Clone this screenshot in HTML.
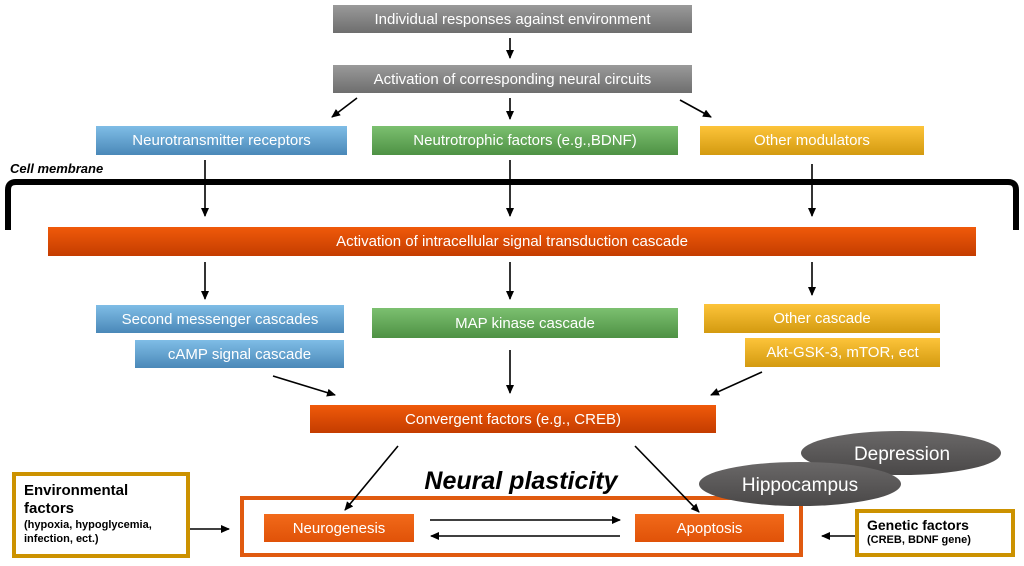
<!DOCTYPE html>
<html><head><style>
body{margin:0;width:1024px;height:566px;background:#fff;position:relative;overflow:hidden;font-family:"Liberation Sans",sans-serif}
.b{position:absolute;color:#fff;font-size:15px;display:flex;align-items:center;justify-content:center;white-space:nowrap}
.g{background:linear-gradient(#9a9a9a,#6e6e6e)}
.bl{background:linear-gradient(#7fbde6,#4a88b8)}
.gr{background:linear-gradient(#7cc070,#4e9144)}
.y{background:linear-gradient(#fdc43a,#d39a10)}
.o{background:linear-gradient(#f05a0a,#c43c00)}
.ob{background:linear-gradient(#f26a1a,#e05208)}
.bx{position:absolute;border:4px solid #cc9200;background:#fff;font-weight:bold;color:#000}
</style></head><body>
<div class="b g" style="left:333px;top:5px;width:359px;height:28px">Individual responses against environment</div>
<div class="b g" style="left:333px;top:65px;width:359px;height:28px">Activation of corresponding neural circuits</div>
<div class="b bl" style="left:96px;top:126px;width:251px;height:29px">Neurotransmitter receptors</div>
<div class="b gr" style="left:372px;top:126px;width:306px;height:29px">Neutrotrophic factors (e.g.,BDNF)</div>
<div class="b y" style="left:700px;top:126px;width:224px;height:29px">Other modulators</div>
<div style="position:absolute;left:10px;top:161px;font-size:13px;font-weight:bold;font-style:italic">Cell membrane</div>
<div class="b o" style="left:48px;top:227px;width:928px;height:29px">Activation of intracellular signal transduction cascade</div>
<div class="b bl" style="left:96px;top:305px;width:248px;height:28px">Second messenger cascades</div>
<div class="b bl" style="left:135px;top:340px;width:209px;height:28px">cAMP signal cascade</div>
<div class="b gr" style="left:372px;top:308px;width:306px;height:30px">MAP kinase cascade</div>
<div class="b y" style="left:704px;top:304px;width:236px;height:29px">Other cascade</div>
<div class="b y" style="left:745px;top:338px;width:195px;height:29px">Akt-GSK-3, mTOR, ect</div>
<div class="b o" style="left:310px;top:405px;width:406px;height:28px">Convergent factors (e.g., CREB)</div>
<div style="position:absolute;left:240px;top:496px;width:555px;height:53px;border:4px solid #e05a10"></div>
<svg width="1024" height="566" style="position:absolute;left:0;top:0">
<defs><marker id="a" markerWidth="10" markerHeight="10" refX="8" refY="4" orient="auto" markerUnits="userSpaceOnUse"><path d="M0,0 L9,4 L0,8z" fill="#000"/></marker>
<linearGradient id="el" x1="0" y1="0" x2="0" y2="1"><stop offset="0" stop-color="#6a6868"/><stop offset="1" stop-color="#4a4848"/></linearGradient></defs>
<path d="M8,230 V190 Q8,182 16,182 H1008 Q1016,182 1016,190 V230" fill="none" stroke="#000" stroke-width="6"/>
<g stroke="#000" stroke-width="1.6" marker-end="url(#a)">
<line x1="510" y1="38" x2="510" y2="58"/>
<line x1="357" y1="98" x2="332" y2="117"/>
<line x1="510" y1="98" x2="510" y2="119"/>
<line x1="680" y1="100" x2="711" y2="117"/>
<line x1="205" y1="160" x2="205" y2="216"/>
<line x1="510" y1="160" x2="510" y2="216"/>
<line x1="812" y1="164" x2="812" y2="216"/>
<line x1="205" y1="262" x2="205" y2="299"/>
<line x1="510" y1="262" x2="510" y2="299"/>
<line x1="812" y1="262" x2="812" y2="295"/>
<line x1="273" y1="376" x2="335" y2="395"/>
<line x1="510" y1="350" x2="510" y2="393"/>
<line x1="762" y1="372" x2="711" y2="395"/>
<line x1="398" y1="446" x2="345" y2="510"/>
<line x1="635" y1="446" x2="699" y2="512"/>
<line x1="430" y1="520" x2="620" y2="520"/>
<line x1="620" y1="536" x2="431" y2="536"/>
<line x1="190" y1="529" x2="229" y2="529"/>
<line x1="875" y1="536" x2="822" y2="536"/>
</g>
<ellipse cx="901" cy="453" rx="100" ry="22" fill="url(#el)"/>
<ellipse cx="800" cy="484" rx="101" ry="22" fill="url(#el)"/>
<text x="902" y="460" fill="#fff" font-size="19" text-anchor="middle" font-family="Liberation Sans">Depression</text>
<text x="800" y="491" fill="#fff" font-size="19" text-anchor="middle" font-family="Liberation Sans">Hippocampus</text>
</svg>
<div style="position:absolute;left:396px;top:467px;width:250px;text-align:center;font-size:25px;font-weight:bold;font-style:italic">Neural plasticity</div>
<div class="b ob" style="left:264px;top:514px;width:150px;height:28px">Neurogenesis</div>
<div class="b ob" style="left:635px;top:514px;width:149px;height:28px">Apoptosis</div>
<div class="bx" style="left:12px;top:472px;width:170px;height:78px;padding:0 0 0 8px;box-sizing:border-box;width:178px;height:86px">
<div style="font-size:15px;line-height:18px;margin-top:6px">Environmental<br>factors</div>
<div style="font-size:11px;line-height:14px">(hypoxia, hypoglycemia,<br>infection, ect.)</div></div>
<div class="bx" style="left:855px;top:509px;width:160px;height:48px;box-sizing:border-box;padding:4px 0 0 8px">
<div style="font-size:14px;line-height:17px">Genetic factors</div>
<div style="font-size:11px;line-height:13px">(CREB, BDNF gene)</div></div>
</body></html>
